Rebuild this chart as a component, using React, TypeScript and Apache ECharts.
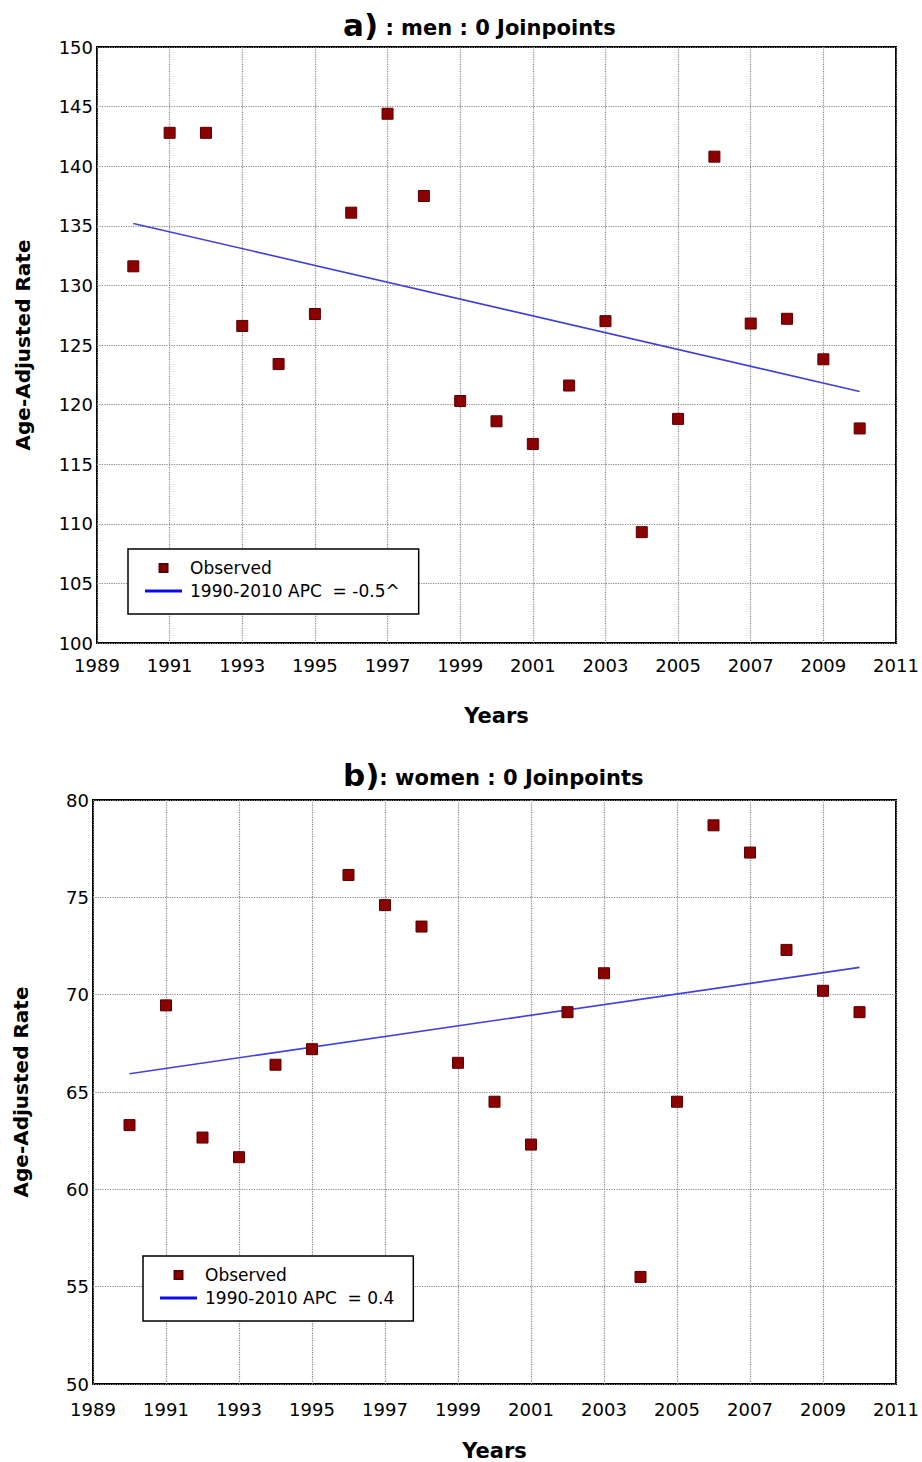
import React, { useEffect, useRef } from "react";
import * as echarts from "echarts";

const axisYears = [
  "1989", "1990", "1991", "1992", "1993", "1994", "1995", "1996", "1997", "1998", "1999", "2000",
  "2001", "2002", "2003", "2004", "2005", "2006", "2007", "2008", "2009", "2010", "2011",
];
const obsYears = [
  "1990", "1991", "1992", "1993", "1994", "1995", "1996", "1997", "1998", "1999", "2000",
  "2001", "2002", "2003", "2004", "2005", "2006", "2007", "2008", "2009", "2010",
];
const menObserved = [
  131.6, 142.8, 142.8, 126.6, 123.4, 127.6, 136.1, 144.4, 137.5, 120.3, 118.6,
  116.7, 121.6, 127.0, 109.3, 118.8, 140.8, 126.8, 127.2, 123.8, 118.0,
];
const womenObserved = [
  63.3, 69.45, 62.66, 61.65, 66.4, 67.2, 76.15, 74.6, 73.5, 66.5, 64.5,
  62.3, 69.1, 71.1, 55.5, 64.5, 78.7, 77.3, 72.3, 70.2, 69.1,
];
const trendYears = ["1990", "2010"];
const menTrend = [135.2, 121.1];
const womenTrend = [65.94, 71.4];
const menTrendName = "1990-2010 APC  = -0.5^";
const womenTrendName = "1990-2010 APC  = 0.4";

const FONT = "DejaVu Sans";

function xAxisOpt(gridIndex: number, nameGap: number, labelMargin: number) {
  return {
    type: "category",
    gridIndex,
    data: axisYears,
    boundaryGap: false,
    name: "Years",
    nameLocation: "middle",
    nameGap,
    nameTextStyle: { fontFamily: FONT, fontWeight: "bold", fontSize: 21, color: "#000" },
    axisLine: { show: false },
    axisTick: { show: false },
    axisLabel: { interval: 1, fontFamily: FONT, fontSize: 18, color: "#000", margin: labelMargin },
    splitLine: { show: true, interval: 1, lineStyle: { type: "dotted", color: "#888", width: 1.2 } },
  };
}

function yAxisOpt(gridIndex: number, min: number, max: number, nameGap: number) {
  return {
    type: "value",
    gridIndex,
    min,
    max,
    interval: 5,
    name: "Age-Adjusted Rate",
    nameLocation: "middle",
    nameGap,
    nameTextStyle: { fontFamily: FONT, fontWeight: "bold", fontSize: 20, color: "#000" },
    axisLine: { show: false },
    axisTick: { show: false },
    axisLabel: { fontFamily: FONT, fontSize: 18, color: "#000", margin: 4 },
    splitLine: { show: true, lineStyle: { type: "dotted", color: "#888", width: 1.2 } },
  };
}

function legendOpt(left: number, top: number, trendName: string) {
  return {
    orient: "vertical",
    left,
    top,
    selectedMode: false,
    symbolKeepAspect: true,
    data: [
      { name: "Observed", icon: "path://M0,0h10v10h-10z" },
      { name: trendName, icon: "path://M0,0h37v3h-37z" },
    ],
    itemWidth: 37,
    itemHeight: 8,
    itemGap: 3,
    padding: [9, 19, 13, 17],
    borderColor: "#000",
    borderWidth: 1.5,
    backgroundColor: "#fff",
    textStyle: { fontFamily: FONT, fontSize: 17, color: "#000", lineHeight: 20, padding: [0, 0, 0, 3] },
  };
}

function scatter(name: string, idx: number, values: number[]) {
  return {
    type: "scatter",
    name,
    xAxisIndex: idx,
    yAxisIndex: idx,
    symbol: "rect",
    symbolSize: 11,
    itemStyle: { color: "#8b0000", borderColor: "#5a0000", borderWidth: 1, opacity: 1 },
    data: obsYears.map((y, i) => [y, values[i]]),
    z: 3,
  };
}

function trend(name: string, idx: number, values: number[]) {
  return {
    type: "line",
    name,
    xAxisIndex: idx,
    yAxisIndex: idx,
    symbol: "none",
    lineStyle: { color: "#4040e0", width: 1.6 },
    itemStyle: { color: "#0a0aee" },
    data: trendYears.map((y, i) => [y, values[i]]),
    z: 2,
  };
}

function titleRich() {
  return {
    a: { fontFamily: FONT, fontWeight: "bold", fontSize: 31, color: "#000", verticalAlign: "bottom" },
    b: { fontFamily: FONT, fontWeight: "bold", fontSize: 21, color: "#000", verticalAlign: "bottom", padding: [0, 0, 2, 0] },
  };
}

export default function App() {
  const ref = useRef<HTMLDivElement>(null);
  useEffect(() => {
    if (!ref.current) return;
    const chart = echarts.init(ref.current, null, { renderer: "svg" });
    chart.setOption({
      animation: false,
      backgroundColor: "#fff",
      title: [
        { text: "{a|a)}{b| : men : 0 Joinpoints}", left: 338, top: 4, textStyle: { rich: titleRich() } },
        { text: "{a|b)}{b|: women : 0 Joinpoints}", left: 338, top: 754, textStyle: { rich: titleRich() } },
      ],
      grid: [
        { left: 97, right: 26, top: 47, height: 596, show: true, borderColor: "#000", borderWidth: 2, backgroundColor: "#fff" },
        { left: 93, right: 26, top: 800, height: 585, show: true, borderColor: "#000", borderWidth: 2, backgroundColor: "#fff" },
      ],
      xAxis: [xAxisOpt(0, 62, 13), xAxisOpt(1, 56, 16)],
      yAxis: [yAxisOpt(0, 100, 150, 64), yAxisOpt(1, 50, 80, 62)],
      legend: [legendOpt(128, 549, menTrendName), legendOpt(143, 1256, womenTrendName)],
      series: [
        scatter("Observed", 0, menObserved),
        trend(menTrendName, 0, menTrend),
        scatter("Observed", 1, womenObserved),
        trend(womenTrendName, 1, womenTrend),
      ],
    });
    return () => chart.dispose();
  }, []);
  return <div ref={ref} style={{ position: "absolute", left: 0, top: 0, width: 922, height: 1462 }} />;
}
